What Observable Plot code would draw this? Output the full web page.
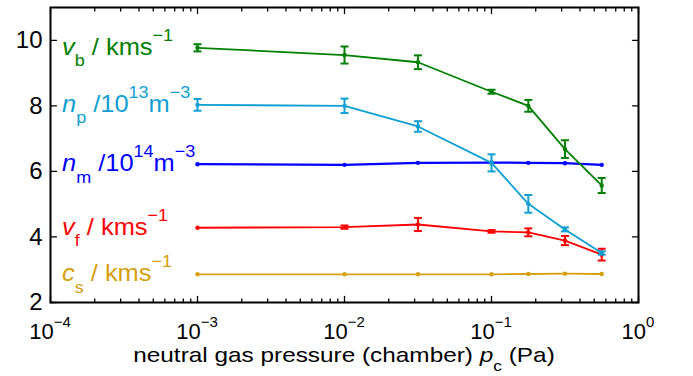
<!DOCTYPE html>
<html>
<head>
<meta charset="utf-8">
<script src="https://cdn.jsdelivr.net/npm/d3@7"></script>
<script src="https://cdn.jsdelivr.net/npm/@observablehq/plot@0.6"></script>
<style>
  body { margin: 0; background: #fff; }
  #chart svg { display: block; }
</style>
</head>
<body>
<div id="chart"></div>
<script>
// ---------- data ----------
const pressure = [0.001, 0.01, 0.0316, 0.1, 0.178, 0.316, 0.562];

const vb    = [9.77, 9.55, 9.33, 8.43, 8.00, 6.68, 5.57];
const vbErr = [0.11, 0.26, 0.21, 0.06, 0.18, 0.27, 0.23];

const np    = [8.03, 8.00, 7.37, 6.26, 5.01, 4.23, 3.51];
const npErr = [0.18, 0.22, 0.16, 0.26, 0.27, 0.06, 0.05];

const nm    = [6.22, 6.20, 6.26, 6.27, 6.26, 6.25, 6.20];

const vf    = [4.28, 4.30, 4.38, 4.17, 4.14, 3.89, 3.46];
const vfErr = [0.00, 0.05, 0.20, 0.04, 0.12, 0.14, 0.18];

const cs    = [2.86, 2.86, 2.86, 2.86, 2.87, 2.88, 2.87];

const seriesLabels = [
  "*c*_{s} / kms^{−1}",
  "*v*_{f} / kms^{−1}",
  "*n*_{m} /10^{14}m^{−3}",
  "*n*_{p} /10^{13}m^{−3}",
  "*v*_{b} / kms^{−1}"
];
const xTickValues = [1e-4, 1e-3, 1e-2, 1e-1, 1e0];
const xTickLabels = ["10^{−4}", "10^{−3}", "10^{−2}", "10^{−1}", "10^{0}"];
const yTickValues = [2, 4, 6, 8, 10];
const xTitle = "neutral gas pressure (chamber) *p*_{c} (Pa)";
const xDomain = [1e-4, 1];
const yDomain = [2, 11];

// ---------- series assembly ----------
const colors = ["#d4a00c", "#ff0000", "#0000ff", "#0f9fd2", "#008000"];
const values = [cs, vf, nm, np, vb];
const errors = [null, vfErr, null, npErr, vbErr];
const series = values.map((v, k) => ({
  label: seriesLabels[k],
  color: colors[k],
  rows: v.map((y, i) => ({x: pressure[i], y, err: errors[k] ? errors[k][i] : 0}))
}));

// minor ticks of the log axis
const minorTicks = [];
for (let e = -4; e < 0; e++) for (let m = 2; m <= 9; m++) minorTicks.push(m * Math.pow(10, e));

const capSymbol = {
  draw(context, size) {
    const w = Math.sqrt(size / Math.PI);
    context.moveTo(-w, 0);
    context.lineTo(w, 0);
  }
};
const tickShape = {
  draw(context, l) {
    context.moveTo(0, 0);
    context.lineTo(0, -l);
  }
};

const marks = [];
for (const s of series) {
  const withErr = s.rows.filter(d => d.err > 0);
  marks.push(Plot.line(s.rows, {x: "x", y: "y", stroke: s.color, strokeWidth: s.color === "#0000ff" ? 2.2 : 1.8}));
  marks.push(Plot.ruleX(withErr, {x: "x", y1: d => d.y - d.err, y2: d => d.y + d.err, stroke: s.color, strokeWidth: 2}));
  marks.push(Plot.dot(withErr, {x: "x", y: d => d.y - d.err, symbol: capSymbol, r: 4, stroke: s.color, strokeWidth: 2, fill: "none"}));
  marks.push(Plot.dot(withErr, {x: "x", y: d => d.y + d.err, symbol: capSymbol, r: 4, stroke: s.color, strokeWidth: 2, fill: "none"}));
  marks.push(Plot.dot(s.rows, {x: "x", y: "y", r: 2.2, fill: s.color, stroke: "none"}));
}

// inward ticks
const tk = {stroke: "black", strokeWidth: 1.3, anchor: "start", shape: tickShape};
marks.push(Plot.vector(xTickValues, {...tk, x: d => d, y: yDomain[0], length: 6, rotate: 0}));
marks.push(Plot.vector(minorTicks, {...tk, x: d => d, y: yDomain[0], length: 3.5, rotate: 0}));
marks.push(Plot.vector(xTickValues, {...tk, x: d => d, y: yDomain[1], length: 6, rotate: 180}));
marks.push(Plot.vector(minorTicks, {...tk, x: d => d, y: yDomain[1], length: 3.5, rotate: 180}));
marks.push(Plot.vector(yTickValues, {...tk, x: xDomain[0], y: d => d, length: 6, rotate: 90}));
marks.push(Plot.vector(yTickValues, {...tk, x: xDomain[1], y: d => d, length: 6, rotate: 270}));

marks.push(Plot.axisY(yTickValues, {tickSize: 0, tickPadding: 8, fontSize: 24, label: null}));
marks.push(Plot.frame({stroke: "black", strokeWidth: 2}));

const plot = Plot.plot({
  width: 693,
  height: 376,
  marginLeft: 50,
  marginRight: 55,
  marginTop: 7,
  marginBottom: 74,
  style: {fontFamily: "'Liberation Sans', Arial, Helvetica, sans-serif", background: "#fff", color: "#000"},
  x: {type: "log", domain: xDomain, axis: null},
  y: {domain: yDomain, axis: null},
  marks
});
document.getElementById("chart").appendChild(plot);

// ---------- rich text (sub/superscripts) ----------
function richText(sel, str, size, subSize, subShift, supShift) {
  const parts = str.match(/(\*[^*]+\*|_\{[^}]*\}|\^\{[^}]*\}|[^*_^]+)/g);
  let off = 0;
  for (const p of parts) {
    let txt = p, fs = size, target = 0, italic = false;
    if (p.startsWith("*")) { txt = p.slice(1, -1); italic = true; }
    else if (p.startsWith("_{")) { txt = p.slice(2, -1); fs = subSize; target = subShift; }
    else if (p.startsWith("^{")) { txt = p.slice(2, -1); fs = subSize; target = supShift; }
    const t = sel.append("tspan").text(txt).attr("font-size", fs).attr("dy", target - off);
    if (italic) t.attr("font-style", "italic");
    off = target;
  }
}

const xs = plot.scale("x"), ys = plot.scale("y");
const svg = d3.select(plot);
const g = svg.append("g").attr("font-family", "'Liberation Sans', Arial, Helvetica, sans-serif");

// x tick labels
xTickValues.forEach((v, i) => {
  const t = g.append("text").attr("x", xs.apply(v)).attr("y", 339).attr("text-anchor", "middle").attr("fill", "#000");
  richText(t, xTickLabels[i], 22, 15, 0, -12);
});

// x title
const cx = (xs.apply(xDomain[0]) + xs.apply(xDomain[1])) / 2;
const tt = g.append("text").attr("transform", `translate(${cx},362) scale(1.16,1)`)
  .attr("text-anchor", "middle").attr("fill", "#000");
richText(tt, xTitle, 21, 15, 9, -10);

// series labels, anchored at each series' first value
series.forEach(s => {
  const t = g.append("text")
    .attr("transform", `translate(${xs.apply(xDomain[0]) + 12},${ys.apply(s.rows[0].y) + 7.5}) scale(1.06,1)`)
    .attr("text-anchor", "start")
    .attr("fill", s.color);
  richText(t, s.label, 24, 17, 11.5, -14);
});
</script>
</body>
</html>
